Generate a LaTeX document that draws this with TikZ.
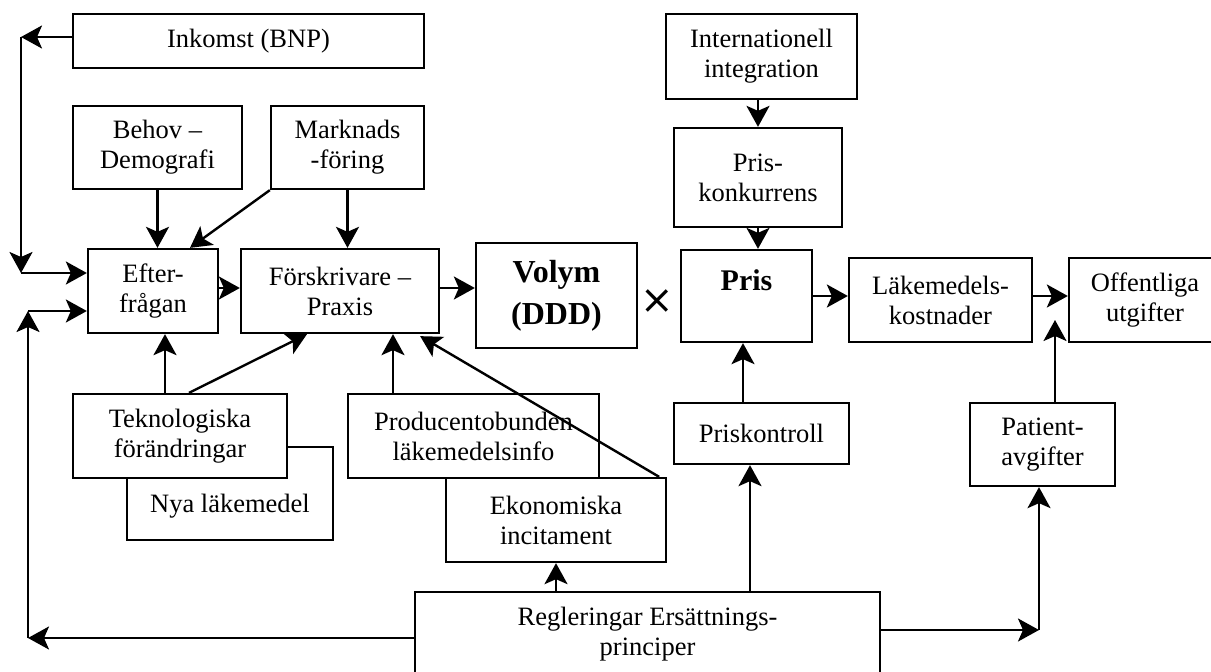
\documentclass[tikz,border=0pt]{standalone}
\usepackage{fontspec}
\setmainfont{Liberation Serif}
\newfontfamily\symfont{DejaVu Sans}
\usetikzlibrary{arrows.meta}
\begin{document}
\begin{tikzpicture}[x=1pt,y=-1pt,
  box/.style={draw, line width=2.3pt, fill=white, rectangle, inner sep=0pt, align=center,
    font=\fontsize{26.5}{30}\selectfont},
  lbl/.style={inner sep=0pt, align=center, font=\fontsize{26.5}{30}\selectfont},
  arr/.style={line width=2.4pt, -{Stealth[length=21pt,width=23pt,inset=5pt]}}]
\useasboundingbox (0,0) rectangle (1211,672);

% background box (partly hidden)
\node[box, minimum width=206pt, minimum height=93pt] (nya) at (230,493.5) {};
\node[lbl] (nyat) at (230,506) {Nya läkemedel};

% boxes
\node[box, minimum width=351pt, minimum height=54pt] (ink) at (248.5,41) {Inkomst (BNP)};
\node[box, minimum width=169pt, minimum height=83pt] (beh) at (157.5,147.5) {Behov --\\Demografi};
\node[box, minimum width=153pt, minimum height=83pt] (mark) at (347.5,147.5) {Marknads\\-föring};
\node[box, minimum width=130pt, minimum height=84pt] (eft) at (153,291) {Efter-\\frågan};
\node[box, minimum width=198pt, minimum height=84pt] (fors) at (340,291) {Förskrivare --\\Praxis};
\node[box, minimum width=161pt, minimum height=105pt, font=\bfseries\fontsize{32}{42}\selectfont] (vol) at (556.5,295.5) {Volym\\(DDD)};
\node[inner sep=0pt, font=\symfont\fontsize{40}{40}\selectfont] (mul) at (657,302) {×};
\node[box, minimum width=131pt, minimum height=92pt, font=\bfseries\fontsize{30}{30}\selectfont] (pris) at (746.5,296) {Pris\\[-8pt]\strut};
\node[box, minimum width=183pt, minimum height=84pt] (lak) at (940.5,300) {Läkemedels-\\kostnader};
\node[box, minimum width=152pt, minimum height=84pt] (off) at (1145,300) {Offentliga\\utgifter};
\node[box, minimum width=191pt, minimum height=85pt] (intl) at (761.5,56.5) {Internationell\\integration};
\node[box, minimum width=168pt, minimum height=99pt] (prk) at (758,177.5) {Pris-\\konkurrens};
\node[box, minimum width=175pt, minimum height=61pt] (prisk) at (761.5,433.5) {Priskontroll};
\node[box, minimum width=145pt, minimum height=83pt] (pat) at (1042.5,444.5) {Patient-\\avgifter};
\node[box, minimum width=214pt, minimum height=84pt] (tek) at (180,436) {Teknologiska\\förändringar};
\node[box, minimum width=251pt, minimum height=84pt] (prod) at (473.5,436) {Producentobunden\\läkemedelsinfo};
\node[box, minimum width=220pt, minimum height=84pt] (eko) at (556,520) {Ekonomiska\\incitament};
\node[box, minimum width=465pt, minimum height=84pt] (reg) at (647.5,634) {Regleringar Ersättnings-\\principer};

% corner points
\coordinate (c1) at (21,37);
\coordinate (c2) at (21,273);
\coordinate (c3) at (28,311);
\coordinate (c4) at (28,638);
\coordinate (c5) at (1055,320);
\coordinate (c6) at (1039,630);

% connectors
\draw[arr] (ink.west |- c1) -- (c1);
\draw[arr] (c1) -- (c2);
\draw[arr] (c2) -- (c2 -| eft.west);
\draw[arr] (reg.west |- c4) -- (c4);
\draw[arr] (c4) -- (c3);
\draw[arr] (c3) -- (c3 -| eft.west);
\draw[arr] (beh.south) -- (beh.south |- eft.north);
\draw[arr] (mark.south west) -- ([xshift=37pt]eft.north);
\draw[arr] (mark.south) -- (mark.south |- fors.north);
\draw[arr] ([yshift=3pt]eft.east) -- ([yshift=3pt]fors.west);
\draw[arr] ([yshift=3pt]fors.east) -- ([yshift=3pt]fors.east -| vol.west);
\draw[arr] (pris.east) -- (pris.east -| lak.west);
\draw[arr] ([yshift=4pt]lak.east) -- ([yshift=4pt]lak.east -| off.west);
\draw[arr] (pat.north -| c5) -- (c5);
\draw[arr] (reg.east |- c6) -- (c6);
\draw[arr] (c6) -- (c6 |- pat.south);
\draw[arr] ([xshift=-11.5pt]prisk.south |- reg.north) -- ([xshift=-11.5pt]prisk.south);
\draw[arr] ([xshift=-3.5pt]pris.south |- prisk.north) -- ([xshift=-3.5pt]pris.south);
\draw[arr] (prk.north |- intl.south) -- (prk.north);
\draw[arr] (prk.south) -- (prk.south |- pris.north);
\draw[arr] ([xshift=-15pt]tek.north) -- ([xshift=-15pt]tek.north |- eft.south);
\draw[arr] ([xshift=9pt]tek.north) -- ([xshift=-33pt]fors.south);
\draw[arr] ([xshift=-80.5pt]prod.north) -- ([xshift=-80.5pt]prod.north |- fors.south);
\draw[arr] ([xshift=-8pt]eko.north east) -- ([xshift=-20pt,yshift=-2pt]fors.south east);
\draw[arr] (eko.south |- reg.north) -- (eko.south);
\end{tikzpicture}
\end{document}
